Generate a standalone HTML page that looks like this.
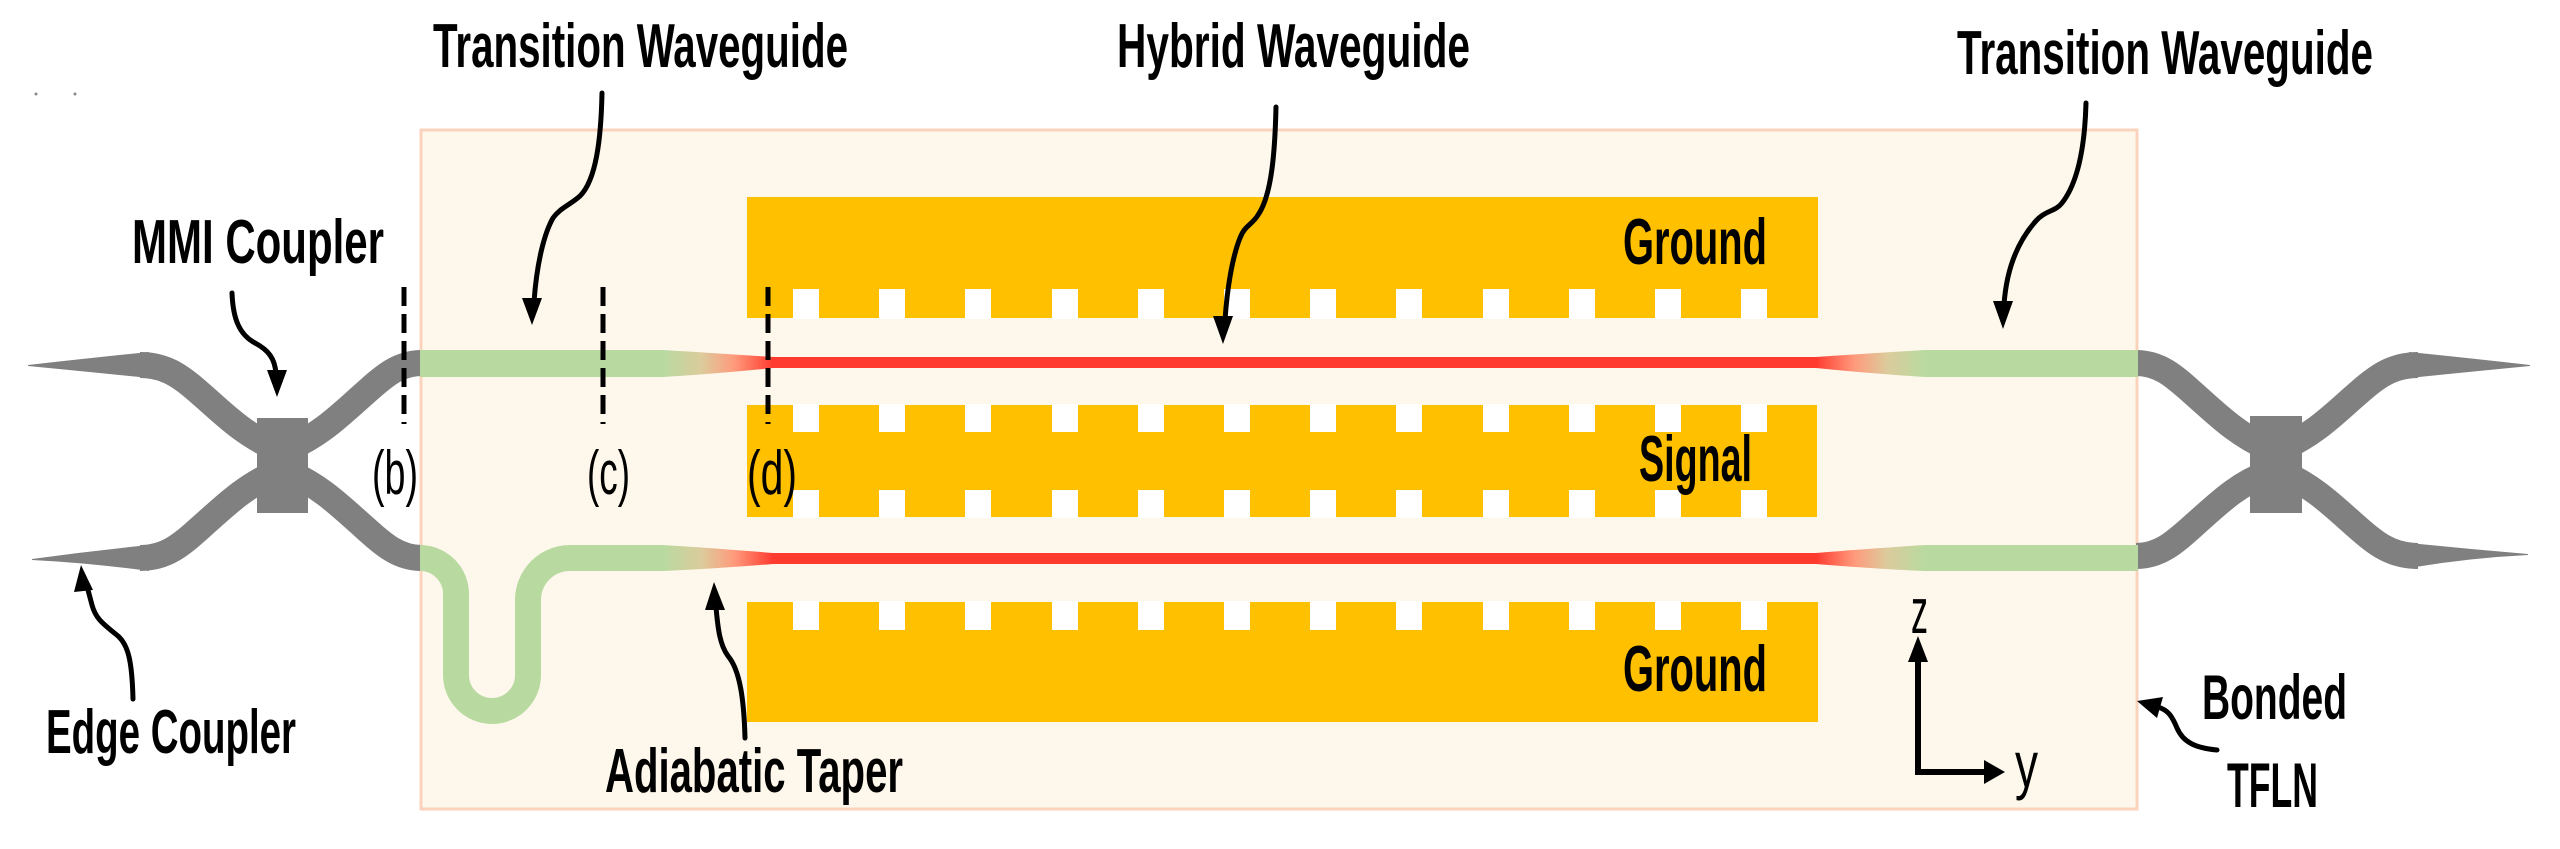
<!DOCTYPE html>
<html>
<head>
<meta charset="utf-8">
<style>
  html, body { margin: 0; padding: 0; background: #ffffff; }
  svg { display: block; }
  .lbl { font-family: "Liberation Sans", "DejaVu Sans", sans-serif; font-weight: bold; fill: #000; }
  .reg { font-family: "Liberation Sans", "DejaVu Sans", sans-serif; font-weight: normal; fill: #000; }
</style>
</head>
<body>
<svg width="2560" height="849" viewBox="0 0 2560 849" xmlns="http://www.w3.org/2000/svg">
  <defs>
    <linearGradient id="tapL" x1="0" y1="0" x2="1" y2="0">
      <stop offset="0" stop-color="#b8daa0"/>
      <stop offset="0.35" stop-color="#dccb9c"/>
      <stop offset="0.65" stop-color="#ff9a7c"/>
      <stop offset="1" stop-color="#ff3b30"/>
    </linearGradient>
    <linearGradient id="tapR" x1="1" y1="0" x2="0" y2="0">
      <stop offset="0" stop-color="#b8daa0"/>
      <stop offset="0.35" stop-color="#dccb9c"/>
      <stop offset="0.65" stop-color="#ff9a7c"/>
      <stop offset="1" stop-color="#ff3b30"/>
    </linearGradient>
  </defs>

  <!-- tiny dots -->
  <circle cx="36" cy="94" r="1.5" fill="#888"/>
  <circle cx="75" cy="94" r="1.5" fill="#888"/>

  <!-- Bonded TFLN box -->
  <rect x="421" y="130" width="1716" height="679" fill="#fef8ec" stroke="#fbd3bd" stroke-width="3"/>

  <!-- Electrodes -->
  <g fill="#ffc000">
    <rect x="747" y="197" width="1071" height="121"/>
    <rect x="747" y="405" width="1070" height="112"/>
    <rect x="747" y="602" width="1071" height="120"/>
  </g>
  <g fill="#ffffff">
    <!-- notches generated at x = 793 + 86.2k -->
    <rect x="793" y="289" width="26" height="30"/><rect x="879" y="289" width="26" height="30"/><rect x="965" y="289" width="26" height="30"/><rect x="1052" y="289" width="26" height="30"/><rect x="1138" y="289" width="26" height="30"/><rect x="1224" y="289" width="26" height="30"/><rect x="1310" y="289" width="26" height="30"/><rect x="1396" y="289" width="26" height="30"/><rect x="1483" y="289" width="26" height="30"/><rect x="1569" y="289" width="26" height="30"/><rect x="1655" y="289" width="26" height="30"/><rect x="1741" y="289" width="26" height="30"/>

    <rect x="793" y="404" width="26" height="28"/><rect x="879" y="404" width="26" height="28"/><rect x="965" y="404" width="26" height="28"/><rect x="1052" y="404" width="26" height="28"/><rect x="1138" y="404" width="26" height="28"/><rect x="1224" y="404" width="26" height="28"/><rect x="1310" y="404" width="26" height="28"/><rect x="1396" y="404" width="26" height="28"/><rect x="1483" y="404" width="26" height="28"/><rect x="1569" y="404" width="26" height="28"/><rect x="1655" y="404" width="26" height="28"/><rect x="1741" y="404" width="26" height="28"/>

    <rect x="793" y="490" width="26" height="28"/><rect x="879" y="490" width="26" height="28"/><rect x="965" y="490" width="26" height="28"/><rect x="1052" y="490" width="26" height="28"/><rect x="1138" y="490" width="26" height="28"/><rect x="1224" y="490" width="26" height="28"/><rect x="1310" y="490" width="26" height="28"/><rect x="1396" y="490" width="26" height="28"/><rect x="1483" y="490" width="26" height="28"/><rect x="1569" y="490" width="26" height="28"/><rect x="1655" y="490" width="26" height="28"/><rect x="1741" y="490" width="26" height="28"/>

    <rect x="793" y="601" width="26" height="29"/><rect x="879" y="601" width="26" height="29"/><rect x="965" y="601" width="26" height="29"/><rect x="1052" y="601" width="26" height="29"/><rect x="1138" y="601" width="26" height="29"/><rect x="1224" y="601" width="26" height="29"/><rect x="1310" y="601" width="26" height="29"/><rect x="1396" y="601" width="26" height="29"/><rect x="1483" y="601" width="26" height="29"/><rect x="1569" y="601" width="26" height="29"/><rect x="1655" y="601" width="26" height="29"/><rect x="1741" y="601" width="26" height="29"/>
  </g>

  <!-- Gray silicon waveguides, left -->
  <g fill="#808080">
    <path d="M28,365 Q90,358 149,352 L149,378 Q90,372 28,366 Z"/>
    <path d="M32,560 Q90,563 149,571 L149,545 Q90,551 32,559 Z"/>
    <rect x="257" y="418" width="51" height="95"/>
    <rect x="2250" y="416" width="52" height="97"/>
    <path d="M2530,365 Q2468,358 2409,352 L2409,378 Q2468,372 2530,366 Z"/>
    <path d="M2528,555 Q2468,558 2409,568 L2409,543 Q2468,549 2528,554 Z"/>
  </g>
  <g fill="none" stroke="#808080" stroke-width="26">
    <path d="M140,365 C170,365 185,380 210,402 C230,420 248,436 275,448"/>
    <path d="M140,558 C170,558 185,541 210,519 C230,501 248,485 275,473"/>
    <path d="M290,448 C317,436 335,420 355,402 C380,380 395,363 422,363"/>
    <path d="M290,473 C317,485 335,501 355,519 C380,541 395,558 422,558"/>

    <path d="M2136,363 C2163,363 2178,380 2203,402 C2223,420 2241,436 2268,448"/>
    <path d="M2136,556 C2163,556 2178,539 2203,517 C2223,499 2241,483 2268,473"/>
    <path d="M2418,365 C2388,365 2373,380 2348,402 C2328,420 2310,436 2283,448"/>
    <path d="M2418,556 C2388,556 2373,541 2348,519 C2328,501 2310,485 2283,473"/>
  </g>

  <!-- Green transition waveguides -->
  <g fill="#b8daa0">
    <rect x="420" y="350" width="244" height="27"/>
    <rect x="1924" y="350" width="214" height="27"/>
    <rect x="1924" y="545" width="214" height="26"/>
  </g>
  <path d="M420,558 A36,36 0 0 1 456,594 L456,675 A36,36 0 0 0 528,675 L528,600 A42,42 0 0 1 570,558 L664,558" fill="none" stroke="#b8daa0" stroke-width="26"/>

  <!-- Tapers -->
  <path d="M663,350 Q712,353 773,357 L773,368 Q712,374 663,377 Z" fill="url(#tapL)"/>
  <path d="M663,545 Q712,548 773,553 L773,564 Q712,569 663,571 Z" fill="url(#tapL)"/>
  <path d="M1925,350 Q1876,353 1816,357 L1816,368 Q1876,374 1925,377 Z" fill="url(#tapR)"/>
  <path d="M1925,545 Q1876,548 1816,553 L1816,564 Q1876,569 1925,571 Z" fill="url(#tapR)"/>

  <!-- Red hybrid waveguides -->
  <rect x="772" y="357" width="1046" height="11" fill="#ff3b30"/>
  <rect x="772" y="553" width="1046" height="11" fill="#ff3b30"/>

  <!-- Dashed cut lines -->
  <g stroke="#000" stroke-width="5" stroke-dasharray="19 8" fill="none">
    <line x1="404" y1="287" x2="404" y2="424"/>
    <line x1="603" y1="287" x2="603" y2="424"/>
    <line x1="768" y1="287" x2="768" y2="424"/>
  </g>

  <!-- Cut labels -->
  <text class="reg" x="372" y="494" font-size="62" textLength="46" lengthAdjust="spacingAndGlyphs">(b)</text>
  <text class="reg" x="587" y="494" font-size="62" textLength="43" lengthAdjust="spacingAndGlyphs">(c)</text>
  <text class="reg" x="747" y="494" font-size="62" textLength="50" lengthAdjust="spacingAndGlyphs">(d)</text>

  <!-- Electrode labels -->
  <text class="lbl" x="1623" y="264" font-size="65" textLength="144" lengthAdjust="spacingAndGlyphs">Ground</text>
  <text class="lbl" x="1639" y="481" font-size="65" textLength="113" lengthAdjust="spacingAndGlyphs">Signal</text>
  <text class="lbl" x="1623" y="691" font-size="65" textLength="144" lengthAdjust="spacingAndGlyphs">Ground</text>

  <!-- Main labels -->
  <text class="lbl" x="433" y="67" font-size="62" textLength="415" lengthAdjust="spacingAndGlyphs">Transition Waveguide</text>
  <text class="lbl" x="1117" y="67" font-size="62" textLength="353" lengthAdjust="spacingAndGlyphs">Hybrid Waveguide</text>
  <text class="lbl" x="1957" y="74" font-size="62" textLength="416" lengthAdjust="spacingAndGlyphs">Transition Waveguide</text>
  <text class="lbl" x="132" y="263" font-size="62" textLength="252" lengthAdjust="spacingAndGlyphs">MMI Coupler</text>
  <text class="lbl" x="46" y="753" font-size="62" textLength="250" lengthAdjust="spacingAndGlyphs">Edge Coupler</text>
  <text class="lbl" x="605" y="792" font-size="62" textLength="298" lengthAdjust="spacingAndGlyphs">Adiabatic Taper</text>
  <text class="lbl" x="2202" y="719" font-size="63" textLength="145" lengthAdjust="spacingAndGlyphs">Bonded</text>
  <text class="lbl" x="2227" y="807" font-size="63" textLength="91" lengthAdjust="spacingAndGlyphs">TFLN</text>

  <!-- Axes -->
  <path d="M1918,658 L1918,772 L1988,772" fill="none" stroke="#000" stroke-width="6" stroke-linejoin="miter"/>
  <polygon points="1918,636 1908,662 1928,662" fill="#000"/>
  <polygon points="2005,772 1984,760 1984,784" fill="#000"/>
  <text class="reg" x="1911" y="633" font-size="64" textLength="17" lengthAdjust="spacingAndGlyphs">z</text>
  <text class="reg" x="2015" y="787" font-size="65" textLength="23" lengthAdjust="spacingAndGlyphs">y</text>

  <!-- Curvy pointer arrows -->
  <g fill="none" stroke="#000" stroke-width="5" stroke-linecap="round">
    <path d="M602,93 C601,140 596,180 580,196 C570,205 560,208 553,218 C545,232 537,260 534,302"/>
    <path d="M1276,107 C1275,150 1272,195 1258,215 C1252,225 1245,225 1240,238 C1232,258 1227,290 1225,320"/>
    <path d="M2086,103 C2085,140 2080,180 2062,203 C2055,212 2045,210 2035,222 C2015,245 2006,275 2004,305"/>
    <path d="M232,293 C233,320 240,335 255,343 C268,350 275,358 276,374"/>
    <path d="M133,699 C132,660 128,645 118,636 C105,625 96,620 92,605 L88,590"/>
    <path d="M745,738 C744,700 740,670 728,656 C720,645 718,630 716,607"/>
    <path d="M2217,750 C2195,748 2183,742 2177,728 C2172,716 2168,710 2158,707"/>
  </g>
  <g fill="#000">
    <polygon points="532,325 522,298 542,298"/>
    <polygon points="1223,344 1213,316 1233,316"/>
    <polygon points="2003,329 1993,301 2013,301"/>
    <polygon points="277,397 267,370 287,370"/>
    <polygon points="81,565 74,592 93,590"/>
    <polygon points="714,582 705,610 725,610"/>
    <polygon points="2137,701 2163,697 2157,718"/>
  </g>
</svg>
</body>
</html>
